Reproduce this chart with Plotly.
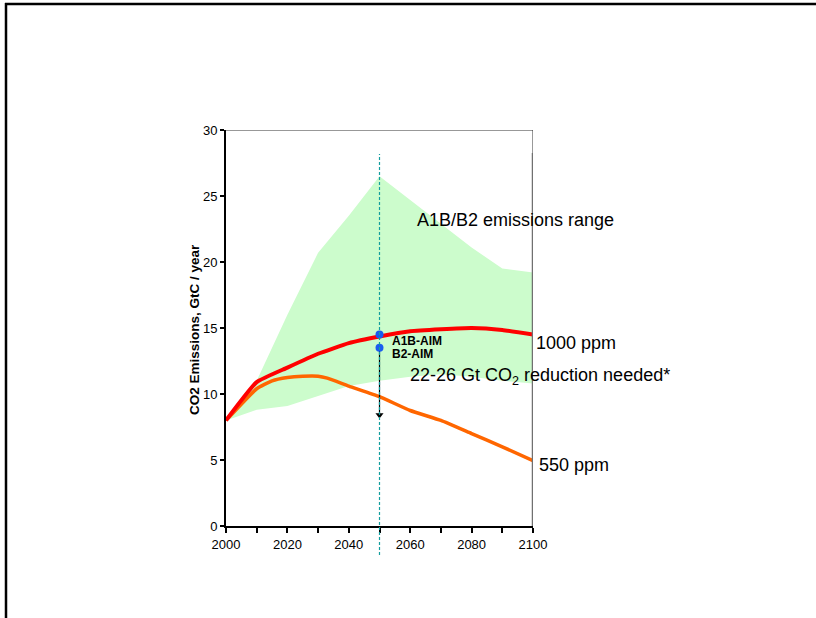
import plotly.graph_objects as go

# ---- data ----
years_red = [2000, 2010, 2020, 2030, 2040, 2050, 2060, 2070, 2080, 2090, 2100]
red_1000ppm = [8.0, 10.9, 12.0, 13.05, 13.85, 14.35, 14.75, 14.9, 15.0, 14.85, 14.5]

years_orange = [2000, 2010, 2015, 2020, 2025, 2030, 2033, 2040, 2050, 2060, 2070, 2080, 2090, 2100]
orange_550ppm = [8.0, 10.4, 11.0, 11.25, 11.35, 11.35, 11.2, 10.6, 9.8, 8.75, 8.0, 7.0, 6.0, 4.95]

years_range = [2000, 2010, 2020, 2030, 2040, 2050, 2060, 2070, 2080, 2090, 2100]
range_upper = [8.0, 11.0, 16.0, 20.7, 23.5, 26.5, 24.7, 22.9, 21.1, 19.5, 19.2]
range_lower = [8.0, 8.8, 9.1, 9.85, 10.6, 11.0, 11.3, 11.5, 11.3, 11.0, 10.8]

marker_year = 2050
marker_names = ["A1B-AIM", "B2-AIM"]
marker_values = [14.5, 13.5]
arrow_end = 8.2

x_ticks = [2000, 2020, 2040, 2060, 2080, 2100]
x_ticktext = ["2000", "2020", "2040", "2060", "2080", "2100"]
y_ticks = [0, 5, 10, 15, 20, 25, 30]

FONT = "Liberation Sans, Arial, sans-serif"

# plot area in page pixels
PL, PT, PR, PB = 226, 130, 533, 526
W, H = 816, 618
PW, PH = PR - PL, PB - PT


def px_x(p):
    return (p - PL) / PW


def px_y(p):
    return (PB - p) / PH


fig = go.Figure()

# emissions range band
fig.add_trace(go.Scatter(x=years_range, y=range_lower, mode="lines",
                         line=dict(width=0, color="rgba(0,0,0,0)"),
                         showlegend=False, hoverinfo="skip"))
fig.add_trace(go.Scatter(x=years_range, y=range_upper, mode="lines",
                         line=dict(width=0, color="rgba(0,0,0,0)"),
                         fill="tonexty", fillcolor="#ccfccc",
                         showlegend=False, hoverinfo="skip"))

fig.add_trace(go.Scatter(x=years_orange, y=orange_550ppm, mode="lines",
                         line=dict(color="#ff6600", width=3.5, shape="spline", smoothing=0.4),
                         showlegend=False))
fig.add_trace(go.Scatter(x=years_red, y=red_1000ppm, mode="lines",
                         line=dict(color="#ff0000", width=4, shape="spline", smoothing=0.4),
                         showlegend=False))

# dashed vertical line at marker year (extends slightly below axis)
fig.add_shape(type="line", xref="x", yref="paper", x0=marker_year, x1=marker_year,
              y0=px_y(555), y1=px_y(154),
              line=dict(color="#139e9e", width=1.2, dash="3px,2px"), layer="above")

# thin frame on top / right of plot
fig.add_shape(type="line", xref="x", yref="y", x0=2000, x1=2100, y0=30, y1=30,
              line=dict(color="#333333", width=1))
fig.add_shape(type="line", xref="x", yref="y", x0=2100, x1=2100, y0=0, y1=30,
              line=dict(color="#333333", width=1))
# thicker gray right line
fig.add_shape(type="line", xref="x", yref="paper", x0=2100, x1=2100, y0=0, y1=px_y(153),
              line=dict(color="#707070", width=2.5))

# outer page frame (top and left)
fig.add_shape(type="line", xref="paper", yref="paper",
              x0=px_x(5), x1=px_x(W + 5), y0=px_y(4), y1=px_y(4),
              line=dict(color="black", width=2.5))
fig.add_shape(type="line", xref="paper", yref="paper",
              x0=px_x(6), x1=px_x(6), y0=px_y(3), y1=px_y(H + 5),
              line=dict(color="black", width=2.5))

# arrow down from B2 marker: shaft + head
fig.add_trace(go.Scatter(x=[marker_year, marker_year], y=[marker_values[1], arrow_end + 0.3],
                         mode="lines", line=dict(color="black", width=1.2),
                         showlegend=False, hoverinfo="skip"))
fig.add_trace(go.Scatter(x=[marker_year], y=[arrow_end + 0.2], mode="markers",
                         marker=dict(symbol="triangle-down", size=7, color="black"),
                         showlegend=False, hoverinfo="skip"))

# markers
fig.add_trace(go.Scatter(x=[marker_year] * len(marker_values), y=marker_values,
                         mode="markers", marker=dict(color="#1a5cf0", size=8),
                         showlegend=False))

for name, v, yy in zip(marker_names, marker_values, [14.0, 13.0]):
    fig.add_annotation(x=marker_year, y=yy, xref="x", yref="y", text="<b>%s</b>" % name,
                       showarrow=False, xanchor="left", yanchor="middle", xshift=10,
                       font=dict(family=FONT, size=12, color="black"))

fig.add_annotation(x=2061.5, y=23.2, xref="x", yref="y", text="A1B/B2 emissions range",
                   showarrow=False, xanchor="left", yanchor="middle",
                   font=dict(family=FONT, size=18, color="black"))
fig.add_annotation(x=2100, y=13.9, xref="x", yref="y", text="1000 ppm",
                   showarrow=False, xanchor="left", yanchor="middle", xshift=1,
                   font=dict(family=FONT, size=18, color="black"))
fig.add_annotation(x=2100, y=4.6, xref="x", yref="y", text="550 ppm",
                   showarrow=False, xanchor="left", yanchor="middle", xshift=4,
                   font=dict(family=FONT, size=18, color="black"))
fig.add_annotation(x=2059.4, y=11.3, xref="x", yref="y",
                   text="22-26 Gt CO<sub>2</sub> reduction needed*",
                   showarrow=False, xanchor="left", yanchor="middle",
                   font=dict(family=FONT, size=18, color="black"))

# y-axis title
fig.add_annotation(x=px_x(194), y=px_y(330), xref="paper", yref="paper",
                   text="<b>CO2 Emissions, GtC / year</b>", textangle=-90,
                   showarrow=False, xanchor="center", yanchor="middle",
                   font=dict(family=FONT, size=13.5, color="black"))

fig.update_layout(
    width=W, height=H,
    margin=dict(l=PL, r=W - PR, t=PT, b=H - PB, pad=0),
    paper_bgcolor="white", plot_bgcolor="white",
    showlegend=False,
    font=dict(family=FONT, size=13, color="black"),
    xaxis=dict(range=[2000, 2100], tickvals=x_ticks, ticktext=x_ticktext,
               showgrid=False, zeroline=False, showline=True, linecolor="black",
               linewidth=2, ticks="outside", ticklen=5, tickwidth=2, tickcolor="black",
               minor=dict(dtick=10, tick0=2000, ticks="outside", ticklen=5, tickwidth=2,
                          tickcolor="black", showgrid=False),
               tickfont=dict(family=FONT, size=13, color="black")),
    yaxis=dict(range=[0, 30], tickvals=y_ticks, showgrid=False, zeroline=False,
               showline=True, linecolor="black", linewidth=2, ticks="outside",
               ticklen=4, tickwidth=2, tickcolor="black",
               tickfont=dict(family=FONT, size=13, color="black")),
)

# remove the browser's default 8px body margin so the figure sits at the page origin
fig.write_html("out.html", config={"displayModeBar": False},
               post_script="document.body.style.margin='0';document.body.style.overflow='hidden';")
